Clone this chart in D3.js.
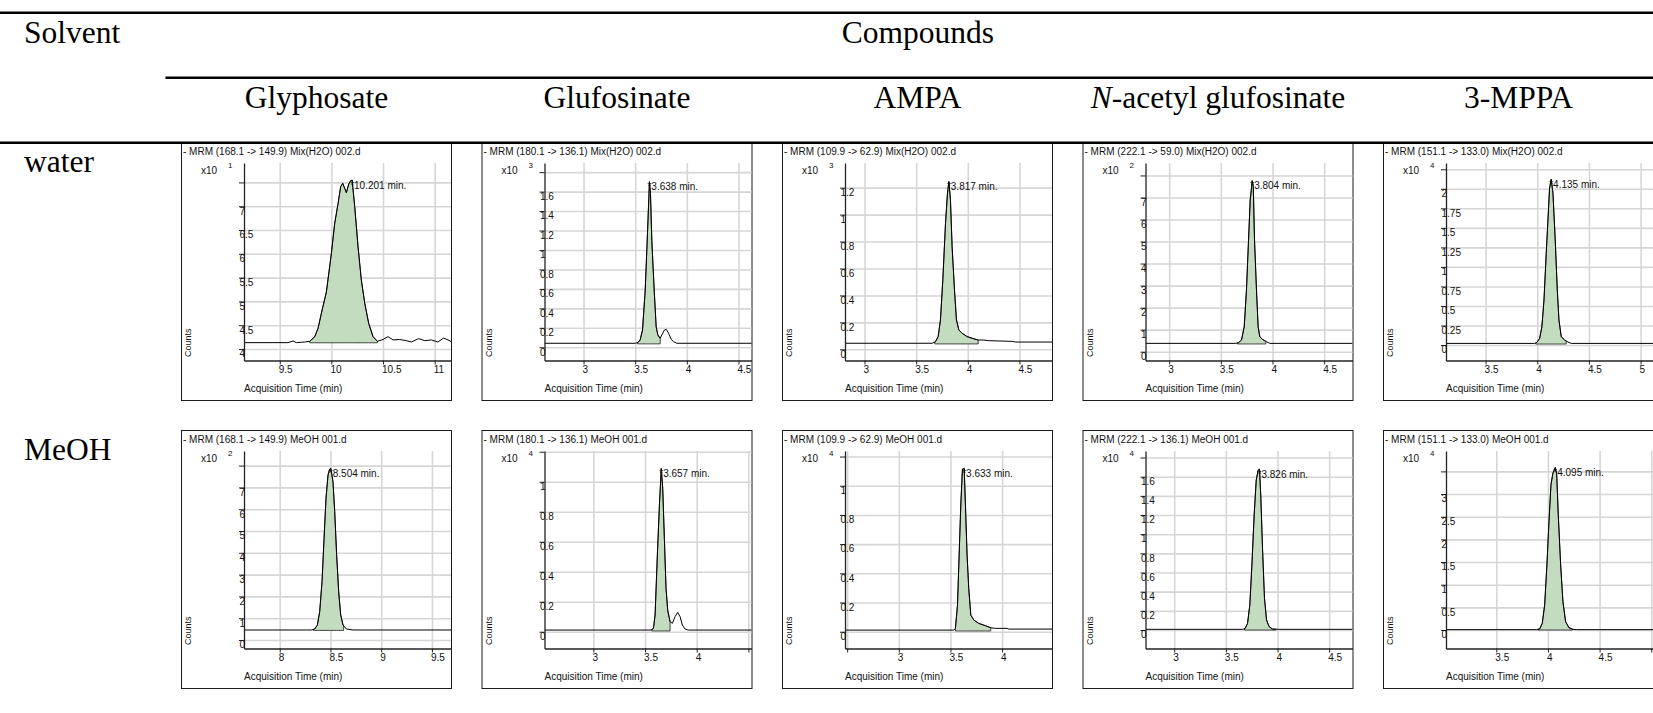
<!DOCTYPE html>
<html>
<head>
<meta charset="utf-8">
<script src="https://cdn.jsdelivr.net/npm/d3@7.9.0/dist/d3.min.js"></script>
<style>
  body { margin: 0; background: #fff; }
  svg { display: block; }
</style>
</head>
<body>
<svg id="chart" width="1653" height="713"></svg>
<script>
// table headers
const solvents = ['water', 'MeOH'];
const compounds = ['Glyphosate', 'Glufosinate', 'AMPA', 'N-acetyl glufosinate', '3-MPPA'];

// one entry per panel: water row first, then MeOH row
const panelTitles = [
  '- MRM (168.1 -> 149.9) Mix(H2O) 002.d',
  '- MRM (180.1 -> 136.1) Mix(H2O) 002.d',
  '- MRM (109.9 -> 62.9) Mix(H2O) 002.d',
  '- MRM (222.1 -> 59.0) Mix(H2O) 002.d',
  '- MRM (151.1 -> 133.0) Mix(H2O) 002.d',
  '- MRM (168.1 -> 149.9) MeOH 001.d',
  '- MRM (180.1 -> 136.1) MeOH 001.d',
  '- MRM (109.9 -> 62.9) MeOH 001.d',
  '- MRM (222.1 -> 136.1) MeOH 001.d',
  '- MRM (151.1 -> 133.0) MeOH 001.d',
];
const exponents = [1, 3, 3, 2, 4, 2, 4, 4, 4, 4];
const peakTimes = ['10.201', '3.638', '3.817', '3.804', '4.135', '8.504', '3.657', '3.633', '3.826', '4.095'];

const xDomains = [
  [9.154, 11.158], [2.622, 4.626], [2.811, 4.815], [2.771, 4.774], [3.117, 5.12],
  [7.648, 9.688], [2.527, 4.53], [2.479, 4.483], [2.722, 4.726], [3.013, 5.017],
];
const yDomains = [
  [3.758, 7.908], [-0.136, 1.894], [-0.083, 1.383], [-0.4, 8.565], [-0.198, 2.33],
  [-0.39, 8.67], [-0.112, 1.205], [-0.115, 1.238], [-0.193, 1.868], [-0.408, 3.95],
];
const xTicks = [
  [9.5, 10, 10.5, 11], [3, 3.5, 4, 4.5], [3, 3.5, 4, 4.5], [3, 3.5, 4, 4.5], [3.5, 4, 4.5, 5],
  [8, 8.5, 9, 9.5], [3, 3.5, 4, 4.5], [2.5, 3, 3.5, 4], [3, 3.5, 4, 4.5], [3.5, 4, 4.5, 5],
];
const yTicks = [
  [4, 4.5, 5, 5.5, 6, 6.5, 7, 7.5],
  [0, 0.2, 0.4, 0.6, 0.8, 1, 1.2, 1.4, 1.6, 1.8],
  [0, 0.2, 0.4, 0.6, 0.8, 1, 1.2],
  [0, 1, 2, 3, 4, 5, 6, 7, 8],
  [0, 0.25, 0.5, 0.75, 1, 1.25, 1.5, 1.75, 2, 2.25],
  [0, 1, 2, 3, 4, 5, 6, 7, 8],
  [0, 0.2, 0.4, 0.6, 0.8, 1, 1.2],
  [0, 0.2, 0.4, 0.6, 0.8, 1, 1.2],
  [0, 0.2, 0.4, 0.6, 0.8, 1, 1.2, 1.4, 1.6, 1.8],
  [0, 0.5, 1, 1.5, 2, 2.5, 3, 3.5],
];
// integrated peak: [start, end] in min, and the integration baseline
const peakWindows = [
  [9.79, 10.445], [3.523, 3.742], [3.68, 4.1], [3.66, 3.935], [3.985, 4.28],
  [8.33, 8.63], [3.565, 3.742], [3.548, 3.89], [3.68, 3.985], [3.9, 4.24],
];
const peakBases = [4.13, 0.035, 0.04, 0.35, 0.013, 0.44, 0.005, 0.005, 0, 0];

// traces: [time (min), counts (x10^n)]
const glyphosateWater = [
  [9.152, 4.133], [9.581, 4.133], [9.629, 4.168], [9.661, 4.133], [9.742, 4.147], [9.79, 4.161],
  [9.839, 4.259], [9.871, 4.434], [9.903, 4.749], [9.952, 5.204], [10.0, 6.01], [10.032, 6.64],
  [10.065, 7.06], [10.09, 7.41], [10.11, 7.48], [10.129, 7.375], [10.145, 7.284], [10.168, 7.466],
  [10.187, 7.536], [10.201, 7.55], [10.226, 6.99], [10.258, 6.15], [10.29, 5.45], [10.323, 4.96],
  [10.361, 4.54], [10.403, 4.26], [10.445, 4.161], [10.5, 4.2], [10.548, 4.26], [10.597, 4.19],
  [10.661, 4.2], [10.726, 4.175], [10.774, 4.147], [10.845, 4.217], [10.903, 4.175], [10.968, 4.19],
  [11.032, 4.147], [11.087, 4.23], [11.129, 4.19], [11.168, 4.147],
];
const glufosinateWater = [
  [2.619, 0.041], [3.5, 0.041], [3.526, 0.048], [3.548, 0.075], [3.571, 0.178], [3.597, 0.589],
  [3.619, 1.171], [3.638, 1.702], [3.648, 1.58], [3.661, 1.1], [3.684, 0.589], [3.703, 0.212],
  [3.719, 0.127], [3.742, 0.092], [3.758, 0.127], [3.784, 0.178], [3.8, 0.185], [3.823, 0.144],
  [3.848, 0.082], [3.871, 0.058], [3.903, 0.041], [4.687, 0.041],
];
const ampaWater = [
  [2.811, 0.045], [3.655, 0.045], [3.687, 0.057], [3.713, 0.094], [3.735, 0.218], [3.758, 0.515],
  [3.784, 0.936], [3.803, 1.158], [3.817, 1.245], [3.832, 1.109], [3.848, 0.762], [3.871, 0.441],
  [3.89, 0.218], [3.913, 0.144], [3.945, 0.119], [3.994, 0.094], [4.042, 0.082], [4.1, 0.069],
  [4.155, 0.069], [4.203, 0.064], [4.3, 0.062], [4.429, 0.059], [4.461, 0.054], [4.815, 0.054],
];
const nAcetylWater = [
  [2.771, 0.378], [3.645, 0.378], [3.671, 0.41], [3.7, 0.53], [3.726, 1.13], [3.748, 2.8],
  [3.768, 5.07], [3.784, 6.88], [3.804, 7.76], [3.814, 7.49], [3.826, 5.07], [3.845, 2.8],
  [3.861, 1.13], [3.877, 0.68], [3.903, 0.56], [3.935, 0.47], [3.974, 0.378], [4.774, 0.378],
];
const mppaWater = [
  [3.117, 0.021], [3.974, 0.021], [3.997, 0.034], [4.023, 0.085], [4.045, 0.235], [4.065, 0.576],
  [4.087, 1.174], [4.11, 1.772], [4.119, 2.007], [4.135, 2.122], [4.152, 1.943], [4.174, 1.345],
  [4.194, 0.705], [4.21, 0.32], [4.232, 0.107], [4.265, 0.064], [4.297, 0.038], [4.329, 0.021],
  [5.12, 0.021],
];
const glyphosateMeoh = [
  [7.648, 0.459], [8.312, 0.459], [8.345, 0.505], [8.371, 0.688], [8.394, 1.3], [8.417, 2.68],
  [8.437, 4.66], [8.456, 6.5], [8.476, 7.57], [8.492, 7.84], [8.504, 7.87], [8.525, 7.26],
  [8.542, 5.89], [8.561, 3.9], [8.581, 2.22], [8.601, 1.15], [8.624, 0.688], [8.657, 0.505],
  [8.722, 0.459], [9.688, 0.459],
];
const glufosinateMeoh = [
  [2.527, 0.011], [3.558, 0.011], [3.581, 0.022], [3.597, 0.111], [3.619, 0.511], [3.639, 0.844],
  [3.657, 1.089], [3.671, 0.956], [3.687, 0.622], [3.703, 0.289], [3.719, 0.144], [3.742, 0.067],
  [3.765, 0.056], [3.79, 0.1], [3.816, 0.129], [3.839, 0.1], [3.861, 0.044], [3.887, 0.018],
  [3.919, 0.011], [4.53, 0.011],
];
const ampaMeoh = [
  [2.479, 0.011], [3.532, 0.011], [3.548, 0.023], [3.568, 0.183], [3.584, 0.525], [3.6, 0.868],
  [3.616, 1.114], [3.633, 1.119], [3.645, 0.868], [3.661, 0.525], [3.677, 0.297], [3.697, 0.114],
  [3.726, 0.08], [3.774, 0.057], [3.839, 0.041], [3.89, 0.027], [3.935, 0.023], [4.048, 0.023],
  [4.065, 0.018], [4.483, 0.018],
];
const nAcetylMeoh = [
  [2.722, 0.007], [3.661, 0.007], [3.687, 0.017], [3.71, 0.07], [3.732, 0.261], [3.752, 0.678],
  [3.774, 1.2], [3.794, 1.565], [3.813, 1.67], [3.826, 1.68], [3.839, 1.374], [3.855, 0.852],
  [3.874, 0.33], [3.894, 0.104], [3.919, 0.035], [3.952, 0.01], [4.016, 0.007], [4.726, 0.007],
];
const mppaMeoh = [
  [3.013, 0.008], [3.887, 0.008], [3.919, 0.022], [3.945, 0.147], [3.968, 0.552], [3.99, 1.436],
  [4.01, 2.393], [4.029, 3.203], [4.048, 3.461], [4.071, 3.586], [4.085, 3.424], [4.1, 2.54],
  [4.123, 1.436], [4.145, 0.626], [4.171, 0.184], [4.203, 0.052], [4.242, 0.015], [4.274, 0.008],
  [5.017, 0.008],
];
const traces = [
  glyphosateWater, glufosinateWater, ampaWater, nAcetylWater, mppaWater,
  glyphosateMeoh, glufosinateMeoh, ampaMeoh, nAcetylMeoh, mppaMeoh,
];

const svg = d3.select('#chart');
const serif = "'Liberation Serif', 'Times New Roman', serif";
const sans = "'Liberation Sans', Arial, sans-serif";

// Panel geometry
const panelW = 271;
const panelH = 259;
const colX = (c) => 181 + c * 300.5;
const rowY = [142, 430];
const plot = { left: 63, right: 270, top: 21, bottom: 218.5 };

function drawPanel(i) {
    const row = Math.floor(i / 5);
    const col = i % 5;
    const trace = traces[i];
    const g = svg.append('g')
        .attr('transform', `translate(${colX(col)}, ${rowY[row]})`);

    const x = d3.scaleLinear().domain(xDomains[i]).range([plot.left, plot.right]);
    const y = d3.scaleLinear().domain(yDomains[i]).range([plot.bottom, plot.top]);

    g.append('rect')
        .attr('x', 0.5).attr('y', 0.5)
        .attr('width', panelW - 1).attr('height', panelH - 1)
        .attr('fill', '#fff')
        .attr('stroke', '#1a1a1a');

    // grid
    const gridY = g.append('g')
        .attr('transform', `translate(${plot.left}, 0)`)
        .call(d3.axisLeft(y).tickValues(yTicks[i]).tickFormat('')
            .tickSize(-(plot.right - plot.left)).tickSizeOuter(0));
    const gridX = g.append('g')
        .attr('transform', `translate(0, ${plot.bottom})`)
        .call(d3.axisBottom(x).tickValues(xTicks[i]).tickFormat('')
            .tickSize(-(plot.bottom - plot.top)).tickSizeOuter(0));
    [gridY, gridX].forEach((gr) => {
        gr.select('.domain').remove();
        gr.selectAll('line').attr('stroke', '#d6d6d6').attr('stroke-width', 1.6);
    });

    // clip for the signal
    const clipId = `clip-${i}`;
    g.append('clipPath').attr('id', clipId)
        .append('rect')
        .attr('x', plot.left).attr('y', plot.top)
        .attr('width', plot.right - plot.left).attr('height', plot.bottom - plot.top);

    // integrated area
    const [t0, t1] = peakWindows[i];
    const interp = (t) => {
        const k = d3.bisector((d) => d[0]).left(trace, t);
        const a = trace[Math.max(0, k - 1)];
        const b = trace[Math.min(trace.length - 1, k)];
        if (b[0] === a[0]) return a[1];
        return a[1] + (b[1] - a[1]) * (t - a[0]) / (b[0] - a[0]);
    };
    const inside = [[t0, interp(t0)], ...trace.filter((d) => d[0] > t0 && d[0] < t1), [t1, interp(t1)]];
    g.append('path')
        .datum(inside)
        .attr('clip-path', `url(#${clipId})`)
        .attr('fill', '#c3dbbe')
        .attr('stroke', '#1a1a1a')
        .attr('stroke-width', 0.8)
        .attr('d', d3.area()
            .x((d) => x(d[0]))
            .y0(y(peakBases[i]))
            .y1((d) => y(d[1])));

    // trace
    g.append('path')
        .datum(trace)
        .attr('clip-path', `url(#${clipId})`)
        .attr('fill', 'none')
        .attr('stroke', '#000')
        .attr('stroke-width', 1)
        .attr('d', d3.line().x((d) => x(d[0])).y((d) => y(d[1])));

    // axes
    const yAxis = g.append('g')
        .attr('transform', `translate(${plot.left}, 0)`)
        .call(d3.axisLeft(y).tickValues(yTicks[i]).tickSize(5).tickSizeOuter(0)
            .tickFormat((d) => (y(d) > 43.5 ? String(d) : '')));
    yAxis.selectAll('text')
        .attr('x', -4.5)
        .attr('dy', '0.78em')
        .attr('text-anchor', 'start');

    const xAxis = g.append('g')
        .attr('transform', `translate(0, ${plot.bottom})`)
        .call(d3.axisBottom(x).tickValues(xTicks[i]).tickSize(4).tickSizeOuter(0)
            .tickFormat((d) => (x(d) > 70 && x(d) < 262 ? String(d) : '')));
    xAxis.selectAll('text')
        .attr('x', -1.5)
        .attr('y', 5.5)
        .attr('text-anchor', 'start');

    [yAxis, xAxis].forEach((ax) => {
        ax.attr('font-family', sans).attr('font-size', 10);
        ax.select('.domain').attr('stroke', '#222').attr('stroke-width', 1.3);
        ax.selectAll('line').attr('stroke', '#222');
        ax.selectAll('text').attr('fill', '#111');
    });

    // peak label
    const apex = d3.greatest(trace, (d) => d[1]);
    g.append('text')
        .attr('x', x(apex[0]) - 2)
        .attr('y', y(apex[1]) + 8.5)
        .attr('font-family', sans).attr('font-size', 10).attr('fill', '#111')
        .text(`*${peakTimes[i]} min.`);

    // panel texts
    g.append('text')
        .attr('x', 2).attr('y', 13)
        .attr('font-family', sans).attr('font-size', 10).attr('fill', '#111')
        .text(panelTitles[i]);

    const scale = g.append('text')
        .attr('x', 20).attr('y', 32)
        .attr('font-family', sans).attr('font-size', 10).attr('fill', '#111');
    scale.append('tspan').text('x10');
    scale.append('tspan')
        .attr('x', 47).attr('y', 25.5)
        .attr('font-size', 8)
        .text(exponents[i]);

    g.append('text')
        .attr('transform', 'translate(10, 215) rotate(-90)')
        .attr('font-family', sans).attr('font-size', 9).attr('fill', '#111')
        .text('Counts');

    g.append('text')
        .attr('x', plot.left).attr('y', 249.5)
        .attr('font-family', sans).attr('font-size', 10).attr('fill', '#111')
        .text('Acquisition Time (min)');
}

traces.forEach((_, i) => drawPanel(i));

// Table rules
const rules = [
    { x1: 0, x2: 1653, y: 12.8 },
    { x1: 165.5, x2: 1653, y: 77.8 },
    { x1: 0, x2: 1653, y: 142.8 },
];
svg.selectAll('line.rule')
    .data(rules)
    .join('line')
    .attr('class', 'rule')
    .attr('x1', (d) => d.x1).attr('x2', (d) => d.x2)
    .attr('y1', (d) => d.y).attr('y2', (d) => d.y)
    .attr('stroke', '#000')
    .attr('stroke-width', 2.4);

// Header texts
function serifText(x, y, anchor) {
    return svg.append('text')
        .attr('x', x).attr('y', y)
        .attr('text-anchor', anchor)
        .attr('font-family', serif)
        .attr('font-size', 31.5)
        .attr('fill', '#000');
}

serifText(24, 43, 'start').text('Solvent');
serifText(918, 43, 'middle').text('Compounds');

compounds.forEach((name, c) => {
    const t = serifText(colX(c) + panelW / 2, 107.5, 'middle');
    if (name.startsWith('N-')) {
        t.append('tspan').attr('font-style', 'italic').text('N');
        t.append('tspan').text(name.slice(1));
    } else {
        t.text(name);
    }
});

const solventY = [172, 460];
solvents.forEach((s, r) => {
    serifText(24, solventY[r], 'start').text(s);
});
</script>
</body>
</html>
